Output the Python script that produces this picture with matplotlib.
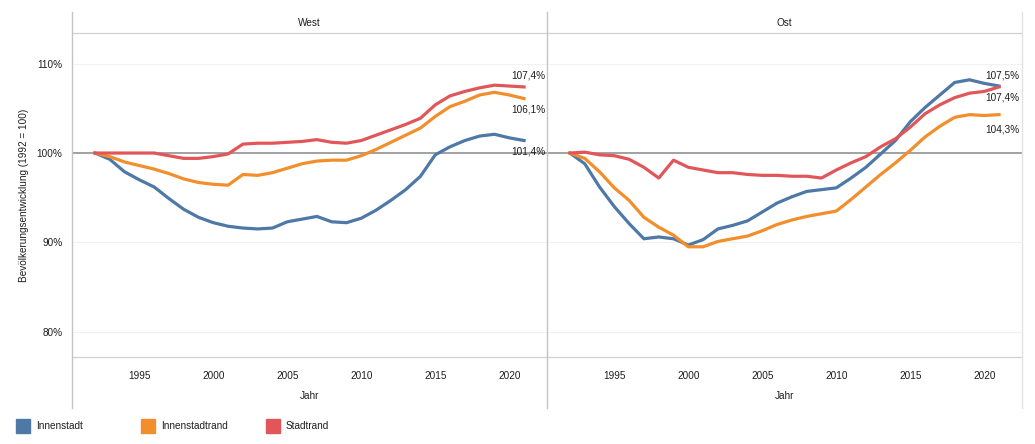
import numpy as np
import matplotlib
matplotlib.use("Agg")
import matplotlib.pyplot as plt
from matplotlib.lines import Line2D
from matplotlib.patches import Rectangle

plt.rcParams["font.family"] = ["Liberation Sans", "DejaVu Sans"]

jahre = np.arange(1992, 2022)

# West
west_innenstadt = [100.0, 99.3, 97.9, 97.0, 96.2, 94.9, 93.7, 92.8, 92.2, 91.8,
                   91.6, 91.5, 91.6, 92.3, 92.6, 92.9, 92.3, 92.2, 92.7, 93.6,
                   94.7, 95.9, 97.4, 99.8, 100.7, 101.4, 101.9, 102.1, 101.7, 101.4]
west_innenstadtrand = [100.0, 99.6, 99.0, 98.6, 98.2, 97.7, 97.1, 96.7, 96.5, 96.4,
                       97.6, 97.5, 97.8, 98.3, 98.8, 99.1, 99.2, 99.2, 99.7, 100.4,
                       101.2, 102.0, 102.8, 104.1, 105.2, 105.8, 106.5, 106.8, 106.5, 106.1]
west_stadtrand = [100.0, 100.0, 100.0, 100.0, 100.0, 99.7, 99.4, 99.4, 99.6, 99.9,
                  101.0, 101.1, 101.1, 101.2, 101.3, 101.5, 101.2, 101.1, 101.4, 102.0,
                  102.6, 103.2, 103.9, 105.4, 106.4, 106.9, 107.3, 107.6, 107.5, 107.4]

# Ost
ost_innenstadt = [100.0, 98.8, 96.2, 94.0, 92.1, 90.4, 90.6, 90.4, 89.7, 90.3,
                  91.5, 91.9, 92.4, 93.4, 94.4, 95.1, 95.7, 95.9, 96.1, 97.2,
                  98.4, 99.9, 101.4, 103.5, 105.1, 106.5, 107.9, 108.2, 107.8, 107.5]
ost_innenstadtrand = [100.0, 99.4, 97.9, 96.1, 94.7, 92.8, 91.7, 90.8, 89.5, 89.5,
                      90.1, 90.4, 90.7, 91.3, 92.0, 92.5, 92.9, 93.2, 93.5, 94.8,
                      96.2, 97.6, 98.9, 100.3, 101.8, 103.0, 104.0, 104.3, 104.2, 104.3]
ost_stadtrand = [100.0, 100.1, 99.8, 99.7, 99.3, 98.4, 97.2, 99.2, 98.4, 98.1,
                 97.8, 97.8, 97.6, 97.5, 97.5, 97.4, 97.4, 97.2, 98.1, 98.9,
                 99.6, 100.7, 101.6, 102.9, 104.4, 105.4, 106.2, 106.7, 106.9, 107.4]

serien = ["Innenstadt", "Innenstadtrand", "Stadtrand"]
farben = ["#4e79a7", "#f28e2b", "#e15759"]

panels = {
    "West": [west_innenstadt, west_innenstadtrand, west_stadtrand],
    "Ost": [ost_innenstadt, ost_innenstadtrand, ost_stadtrand],
}
# label offsets (pixels) for end-of-line values
label_offsets = {
    "West": [(21, -11), (21, -11), (21, 11)],
    "Ost": [(20, 11), (20, -15), (20, -11)],
}

W, H = 1035, 444
fig = plt.figure(figsize=(W / 100, H / 100), dpi=100)

def fx(px):
    return px / W

def fy(py):
    return 1 - py / H

fs = 7.2
tc = "#1e1e1e"
line_col = "#d0d0d0"

for i, (name, daten) in enumerate(panels.items()):
    left = 72 + i * 475
    ax = fig.add_axes([fx(left), fy(357), fx(475), (357 - 33) / H])
    ax.set_xlim(1990.45, 2022.55)
    ax.set_ylim(77.16, 113.44)
    for s in ax.spines.values():
        s.set_visible(False)
    for yv in [80, 90, 110]:
        ax.axhline(yv, color="#f1f1f1", lw=0.8, zorder=0)
    ax.axhline(100, color="#9a9a9a", lw=1.3, zorder=1)
    for werte, farbe in zip(daten, farben):
        ax.plot(jahre, werte, color=farbe, lw=2.3, zorder=3, solid_joinstyle="round")
    for werte, (dx, dy) in zip(daten, label_offsets[name]):
        txt = f"{werte[-1]:.1f}%".replace(".", ",")
        ax.annotate(txt, xy=(jahre[-1], werte[-1]), xytext=(dx, dy),
                    textcoords="offset pixels", ha="right", va="center",
                    fontsize=fs, color=tc, zorder=4)
    ax.set_xticks([1995, 2000, 2005, 2010, 2015, 2020])
    ax.tick_params(axis="x", length=0, pad=10, labelsize=fs, labelcolor=tc)
    ax.set_xlabel("Jahr", fontsize=fs, color=tc, labelpad=7)
    if i == 0:
        ax.set_yticks([80, 90, 100, 110])
        ax.set_yticklabels(["80%", "90%", "100%", "110%"])
        ax.tick_params(axis="y", length=0, pad=7, labelsize=fs, labelcolor=tc)
        ax.set_ylabel("Bevölkerungsentwicklung (1992 = 100)", fontsize=fs,
                      color=tc, labelpad=5)
    else:
        ax.set_yticks([])
    # panel header
    fig.text(fx(left + 237.5), fy(23), name, ha="center", va="center",
             fontsize=fs, color=tc)

# frame lines
fig.add_artist(Line2D([fx(72), fx(1022)], [fy(33), fy(33)], color=line_col, lw=0.9))
fig.add_artist(Line2D([fx(72), fx(1022)], [fy(357), fy(357)], color=line_col, lw=0.9))
fig.add_artist(Line2D([fx(72), fx(72)], [fy(12), fy(408)], color="#c4c4c4", lw=1.0))
fig.add_artist(Line2D([fx(547), fx(547)], [fy(12), fy(408)], color="#c4c4c4", lw=1.0))
fig.add_artist(Line2D([fx(1022), fx(1022)], [fy(12), fy(408)], color="#e2e2e2", lw=1.0))

# legend
for j, (serie, farbe) in enumerate(zip(serien, farben)):
    x0 = 16 + j * 125
    fig.add_artist(Rectangle((fx(x0), fy(433)), fx(14), 14 / H, color=farbe,
                             transform=fig.transFigure))
    fig.text(fx(x0 + 20), fy(426), serie, ha="left", va="center",
             fontsize=fs, color=tc)

fig.savefig("out.png", dpi=100)
